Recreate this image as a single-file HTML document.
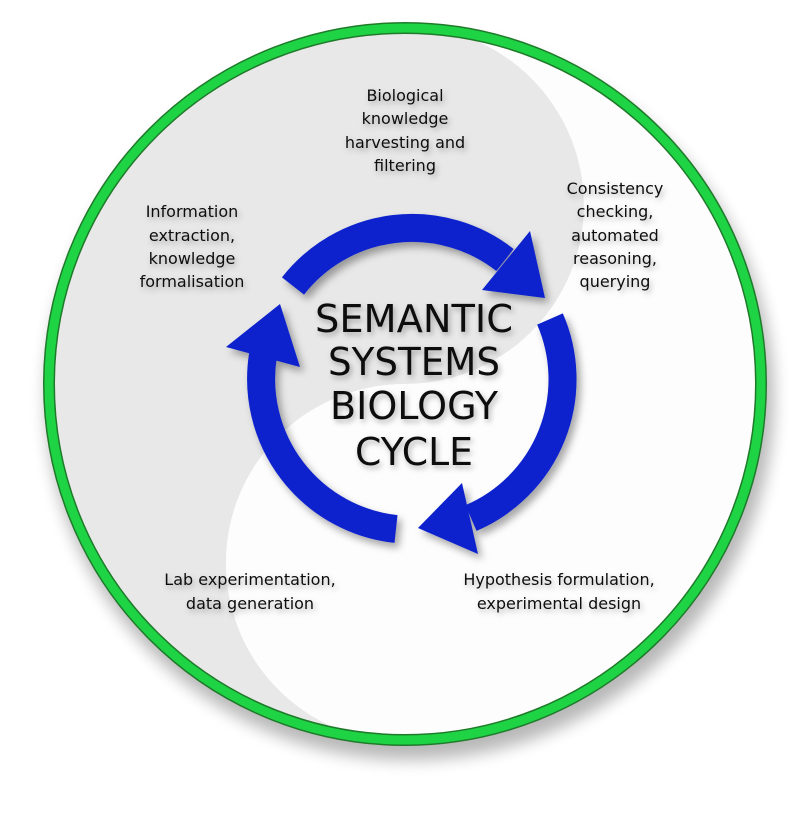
<!DOCTYPE html>
<html><head><meta charset="utf-8"><style>
html,body{margin:0;padding:0;background:#fff;width:800px;height:833px;overflow:hidden}
svg{display:block}
.l{font-family:"DejaVu Sans","Liberation Sans",sans-serif;font-size:16px;fill:#111;text-anchor:middle}
.t{font-family:"DejaVu Sans","Liberation Sans",sans-serif;font-size:38px;fill:#111;text-anchor:middle}
</style></head><body>
<svg width="800" height="833" viewBox="0 0 800 833">
<defs>
<filter id="sh" x="-20%" y="-20%" width="140%" height="140%"><feGaussianBlur stdDeviation="8"/></filter>
<filter id="ds" x="-20%" y="-20%" width="140%" height="140%"><feDropShadow dx="4" dy="5" stdDeviation="4" flood-color="#000" flood-opacity="0.35"/></filter>
<filter id="ts" x="-20%" y="-20%" width="140%" height="140%"><feDropShadow dx="2" dy="3" stdDeviation="3" flood-color="#000" flood-opacity="0.3"/></filter>
<clipPath id="cc"><circle cx="405" cy="384" r="358"/></clipPath>
</defs>
<ellipse cx="410" cy="398" rx="364" ry="362" fill="#000" opacity="0.28" filter="url(#sh)"/>
<circle cx="405" cy="384" r="358" fill="#fff"/>
<g clip-path="url(#cc)">
<path d="M405 26 A358 358 0 0 0 405 742 A179 179 0 0 1 405 384 A179 179 0 0 0 405 26 Z" fill="#e8e8e8"/>
<path d="M405 26 A358 358 0 0 1 405 742 A179 179 0 0 1 405 384 A179 179 0 0 0 405 26 Z" fill="#fdfdfd"/>
</g>
<circle cx="405" cy="384" r="356" fill="none" stroke="#1f7a2a" stroke-width="12"/>
<circle cx="405" cy="384" r="356" fill="none" stroke="#1ed445" stroke-width="9"/>

<g filter="url(#ds)" fill="#0a22cc">
<path d="M293 286 A151 151 0 0 1 505 260" fill="none" stroke="#0a22cc" stroke-width="28"/>
<polygon points="530,231 482,290 545,298"/>
<path d="M550 319 A151 151 0 0 1 471 518" fill="none" stroke="#0a22cc" stroke-width="28"/>
<polygon points="462,483 478,554 418,528"/>
<path d="M396 529 A151 151 0 0 1 263 355" fill="none" stroke="#0a22cc" stroke-width="28"/>
<polygon points="226,347 300,367 280,304"/>
</g>

<g filter="url(#ts)">
<text class="t" x="414" y="332" textLength="198" lengthAdjust="spacingAndGlyphs">SEMANTIC</text>
<text class="t" x="414" y="375" textLength="172" lengthAdjust="spacingAndGlyphs">SYSTEMS</text>
<text class="t" x="414" y="419" textLength="168" lengthAdjust="spacingAndGlyphs">BIOLOGY</text>
<text class="t" x="414" y="465" textLength="118" lengthAdjust="spacingAndGlyphs">CYCLE</text>

<text class="l" x="405" y="101">Biological</text>
<text class="l" x="405" y="124">knowledge</text>
<text class="l" x="405" y="148">harvesting and</text>
<text class="l" x="405" y="171">filtering</text>

<text class="l" x="615" y="194">Consistency</text>
<text class="l" x="615" y="217">checking,</text>
<text class="l" x="615" y="241">automated</text>
<text class="l" x="615" y="264">reasoning,</text>
<text class="l" x="615" y="287">querying</text>

<text class="l" x="192" y="217">Information</text>
<text class="l" x="192" y="241">extraction,</text>
<text class="l" x="192" y="264">knowledge</text>
<text class="l" x="192" y="287">formalisation</text>

<text class="l" x="250" y="585">Lab experimentation,</text>
<text class="l" x="250" y="609">data generation</text>

<text class="l" x="559" y="585">Hypothesis formulation,</text>
<text class="l" x="559" y="609">experimental design</text>
</g>
</svg>
</body></html>
